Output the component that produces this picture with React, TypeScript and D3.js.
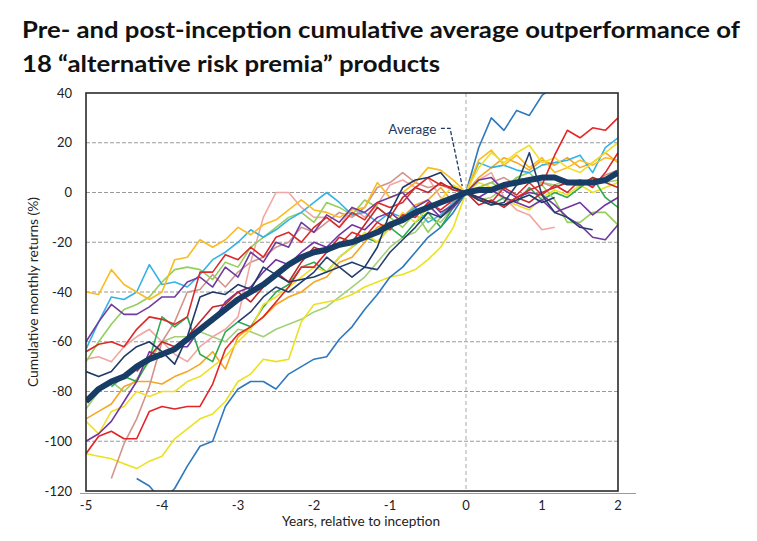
import * as d3 from 'd3';

// months relative to inception, every 2 months from -5y to +2y
const months = d3.range(-60, 25, 2);

const xTicks = [-5, -4, -3, -2, -1, 0, 1, 2];
const yTicks = [40, 20, 0, -20, -40, -60, -80, -100, -120];
const gridTicks = [20, 0, -20, -40, -60, -80, -100];

const blue = [null,null,null,null,-115,-118,-124,-119,-110,-102, -100,-86,-79,-76,-76,-79,-73,-70,-67,-66, -59,-54,-47,-41,-34,-30,-24,-18,-14,-8, 0,18,30,25,33,31,39,43,null,null, null,null,null];
const yellowLow = [-105,-106,-107,-109,-111,-108,-106,-99,-95,-91, -89,-84,-76,-73,-67,-68,-67,-52,-45,-44, -43,-41,-38,-36,-34,-33,-31,-27,-22,-14, 0,4,2,-3,-5,-7,-2,1,-1,3, 0,2,4];
const cyan = [-63,-52,-42,-43,-40,-29,-37,-36,-38,-33, -27,-24,-20,-15,-18,-15,-11,-8,-4,0, -4,-9,-8,-12,-8,-10,-6,-12,-9,-4, 0,12,10,11,9,8,11,12,13,15, 8,18,22];
const orangeTop = [-40,-41,-31,-37,-40,-43,-40,-27,-26,-19, -22,-19,-14,-17,-13,-11,-7,-3,-7,-8, -10,-7,-6,4,-2,0,4,10,9,5, 0,13,17,11,15,10,14,8,10,13, 11,14,13];
const orangeLow = [-91,-88,-85,-78,-76,-76,-77,-74,-72,-69, -64,-71,-58,-54,-50,-45,-42,-40,-36,-34, -28,-26,-20,-14,-12,-10,-5,-3,2,-4, 0,6,10,14,12,9,13,11,14,10, 12,16,12];
const redLow = [-105,-98,-96,-99,-99,-88,-86,-87,-86,-86, -77,-63,-57,-54,-50,-44,-38,-30,-30,-24, -21,-16,-18,-12,-15,-9,-10,-4,-7,-3, 0,-3,-4,-5,-2,1,3,15,25,22, 26,25,30];
const redUp = [-64,-61,-60,-62,-55,-50,-51,-53,-50,-32, -32,-25,-27,-22,-26,-18,-16,-20,-14,-10, -14,-8,-11,-4,-6,-4,2,6,3,2, 0,-2,-4,2,-1,4,-1,3,0,5, 2,8,16];
const pink = [-67,-66,-68,-62,-58,-55,-60,-65,-68,-62, -58,-55,-50,-28,-10,0,0,-6,-10,-10, -14,-6,-10,-5,3,5,2,6,-2,-5, 0,5,8,-2,-7,-9,-15,-14,null,null, null,null,null];
const salmon = [null,null,-115,-101,-91,-78,-60,-52,-40,-39, -33,-38,-32,-28,-26,-22,-20,-14,-16,-12, -8,-10,-6,2,4,8,4,2,3,1, 0,2,4,6,3,5,4,2,4,5, 3,7,9];
const navyA = [-72,-74,-72,-66,-62,-60,-64,-69,-58,-42, -40,-41,-37,-39,-30,-33,-36,-35,-34,-32, -30,-28,-30,-22,-8,2,5,6,8,2, 0,-2,-4,-5,-3,-1,-4,-2,null,null, null,null,null];
const navyB = [null,null,null,null,null,null,null,null,null,null, null,null,-52,-48,-42,-38,-40,-36,-32,-26, -30,-34,-30,-31,-24,-19,-14,-8,-10,-5, 0,-3,-5,-4,3,16,-1,-8,-10,-14, -15,null,null];
const purpleLow = [-100,-97,-92,-84,-76,-64,-66,-62,-62,-55, -52,-44,-40,-38,-32,-27,-29,-24,-20,-22, -17,-13,-15,-10,-8,-12,-9,-5,-10,-6, 0,-2,1,-2,-4,-6,-3,-8,-6,-4, -9,-5,-2];
const purpleUp = [-60,-52,-45,-49,-49,-46,-42,-42,-36,-34, -38,-30,-34,-24,-28,-20,-22,-12,-16,-9, -12,-6,-8,-4,-2,0,-6,-3,-8,-5, 0,5,6,1,-2,0,-1,-5,-10,-13, -18,-19,-13];
const lightGreen = [-68,-60,-53,-47,-45,-42,-36,-31,-30,-31, -35,-28,-30,-22,-18,-14,-10,-8,-12,-4, -6,-9,-3,-6,-10,-14,-8,-16,-10,-5, 0,2,4,1,6,8,3,-3,-12,-12, -8,-8,-13];
const lightGreen2 = [-87,-80,-76,-80,-75,-68,-60,-58,-58,-56, -58,-60,-55,-56,-58,-55,-53,-51,-48,-46, -42,-38,-34,-28,-22,-18,-16,-10,-12,-6, 0,-3,-2,2,6,5,4,3,5,2, 6,4,5];
const green = [null,null,-78,-74,-76,-67,-50,-54,-50,-65, -68,-56,-52,-54,-46,-40,-37,-30,-28,-32, -26,-22,-18,-20,-14,-18,-12,-8,-14,-6, 0,-3,-5,-2,-4,2,-3,0,-2,2, 6,-2,-6];
const darkRed = [null,null,null,null,-72,-66,-60,-62,-58,-52, -46,-45,-40,-44,-38,-32,-36,-28,-22,-24, -18,-20,-13,-6,-10,-2,2,0,4,1, 0,-5,-3,-6,-2,-4,0,2,4,3, 6,4,2];
const yellow2 = [-92,-97,-88,-86,-80,-82,-80,-80,-76,-74, -70,-66,-60,-55,-45,-42,-38,-34,-30,-32, -26,-22,-16,-20,-14,-8,-12,-6,-3,3, 0,10,16,12,16,19,12,14,10,8, 12,16,20];

const average = [-84,-79,-76,-74,-70,-67,-65,-63,-59,-55, -51,-47,-43,-40,-37,-33,-29,-26,-24,-23, -21,-20,-18,-16,-13,-11,-8,-6,-4,-2, 0,1,1,3,4,5,6,6,4,4, 4,5,8];

const SERIES: { values: (number | null)[]; color: string }[] = [
  { values: lightGreen2, color: '#a5d07a' },
  { values: yellowLow, color: '#ebe21f' },
  { values: orangeLow, color: '#f5a623' },
  { values: blue, color: '#2e78bd' },
  { values: salmon, color: '#d0958c' },
  { values: pink, color: '#f2a5a2' },
  { values: green, color: '#2fab4f' },
  { values: lightGreen, color: '#93cf5c' },
  { values: cyan, color: '#35b3e6' },
  { values: orangeTop, color: '#fbbb22' },
  { values: yellow2, color: '#f0df2a' },
  { values: purpleLow, color: '#7534a3' },
  { values: purpleUp, color: '#6f3c9f' },
  { values: darkRed, color: '#c0282d' },
  { values: redLow, color: '#e42527' },
  { values: redUp, color: '#db2a2c' },
  { values: navyB, color: '#263f6e' },
  { values: navyA, color: '#1f3a68' },
];

const FONT = 'Lato, "Open Sans", sans-serif';

export default function App() {
  const W = 757, H = 541;
  const x = d3.scaleLinear().domain([-5, 2]).range([86, 618]);
  const y = d3.scaleLinear().domain([-120, 40]).range([491, 93]);

  const line = d3.line<[number, number | null]>()
    .defined(d => d[1] != null)
    .x(d => x(d[0] / 12))
    .y(d => y(d[1] as number));

  const pts = (vals: (number | null)[]) => months.map((m, i) => [m, vals[i]] as [number, number | null]);

  const [x0, x1] = x.range();
  const [yb, yt] = y.range();

  return (
    <svg width={W} height={H} style={{ position: 'absolute', left: 0, top: 0, background: '#fff' }} fontFamily={FONT}>
      <defs>
        <clipPath id="plot"><rect x={x0} y={yt} width={x1 - x0} height={yb - yt} /></clipPath>
      </defs>

      <text x={22} y={38} fontSize={23.5} fontWeight={700} fill="#111" textLength={718} lengthAdjust="spacingAndGlyphs">
        Pre- and post-inception cumulative average outperformance of
      </text>
      <text x={22} y={72} fontSize={23.5} fontWeight={700} fill="#111" textLength={418} lengthAdjust="spacingAndGlyphs">
        18 “alternative risk premia” products
      </text>

      {gridTicks.map(t => (
        <line key={t} x1={x0} x2={x1} y1={y(t)} y2={y(t)} stroke="#9a9a9a" strokeWidth={1.2} strokeDasharray="4,2" />
      ))}
      <line x1={x(0)} x2={x(0)} y1={yt} y2={yb} stroke="#b8b8b8" strokeWidth={1.2} strokeDasharray="4,3" />

      <g clipPath="url(#plot)" fill="none" strokeLinejoin="round">
        {SERIES.map((s, i) => (
          <path key={i} d={line(pts(s.values)) ?? ''} stroke={s.color} strokeWidth={1.6} />
        ))}
        <path d={line(pts(average)) ?? ''} stroke="#173d66" strokeWidth={6} />
      </g>

      <rect x={x0} y={yt} width={x1 - x0} height={yb - yt} fill="none" stroke="#2a2a2a" strokeWidth={1.6} />
      <line x1={80} x2={636} y1={yb + 2.5} y2={yb + 2.5} stroke="#9a9a9a" strokeWidth={1} />

      {yTicks.map(t => (
        <text key={t} x={72} y={y(t)} dy="0.35em" textAnchor="end" fontSize={13} fill="#222">{t}</text>
      ))}
      {xTicks.map(t => (
        <text key={t} x={x(t)} y={510} textAnchor="middle" fontSize={13} fill="#222">{t}</text>
      ))}

      <text x={361} y={526} textAnchor="middle" fontSize={13.5} fill="#222" textLength={158} lengthAdjust="spacingAndGlyphs">
        Years, relative to inception
      </text>
      <text transform={`translate(38,${(yt + yb) / 2}) rotate(-90)`} textAnchor="middle" fontSize={13.5} fill="#222"
        textLength={190} lengthAdjust="spacingAndGlyphs">
        Cumulative monthly returns (%)
      </text>

      <text x={x(-0.39)} y={y(25.5)} dy="0.35em" textAnchor="end" fontSize={13.5} fill="#1f3b63">Average</text>
      <path
        d={`M${x(-0.33)},${y(25.8)} L${x(-0.21)},${y(25.8)} L${x(-0.05)},${y(2.6)}`}
        fill="none" stroke="#1f3b63" strokeWidth={1.3} strokeDasharray="4,2"
      />
    </svg>
  );
}
